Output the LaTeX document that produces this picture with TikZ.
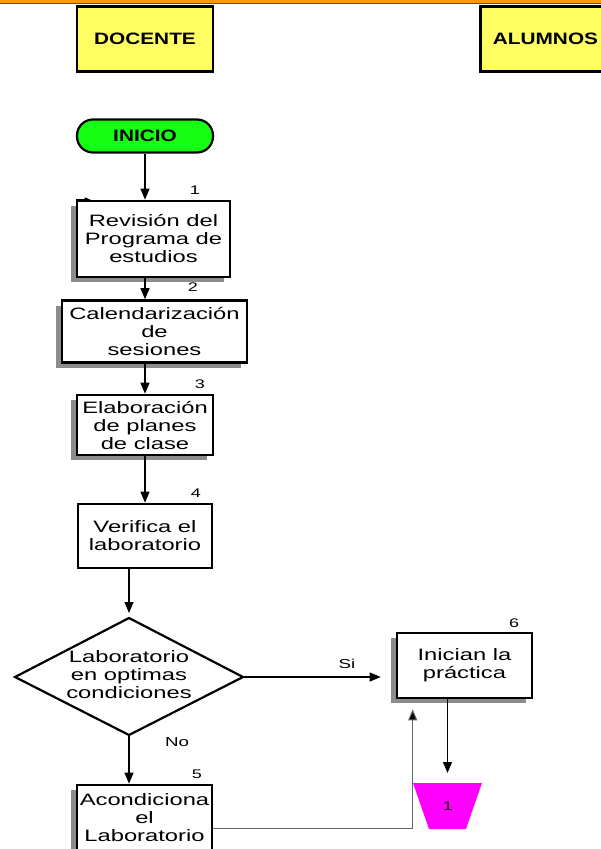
\documentclass[tikz,border=0pt]{standalone}
\usepackage{fontspec}
\setmainfont{Liberation Sans}[FakeStretch=1.44]
\newfontfamily\hdfont{Liberation Sans}[FakeStretch=1.26]
\usetikzlibrary{shapes.geometric,arrows.meta,shadows,calc}
\definecolor{yel}{RGB}{255,255,100}
\definecolor{grn}{RGB}{20,255,20}
\definecolor{mag}{RGB}{255,0,255}
\definecolor{shd}{RGB}{140,140,140}
\definecolor{org}{RGB}{255,153,0}
\begin{document}
\begin{tikzpicture}[x=1pt,y=-1pt,
  txt/.style={font=\fontsize{16.5}{18}\selectfont, align=center, inner sep=0pt},
  proc/.style={draw, line width=2.6pt, fill=white, inner sep=0pt, txt},
  shproc/.style={proc, drop shadow={shadow xshift=-6pt, shadow yshift=-5pt, fill=shd, opacity=1}},
  head/.style={draw, line width=2.2pt, fill=yel, inner sep=0pt, minimum height=65,
    font=\hdfont\bfseries\fontsize{16.5}{18}\selectfont},
  num/.style={font=\fontsize{12.5}{13}\selectfont, inner sep=0pt},
  arr/.style={line width=1.1pt, -{Triangle[length=11pt,width=9pt]}},
]
\useasboundingbox (0,0) rectangle (601,849);
\clip (0,0) rectangle (601,849);
\fill[white] (0,0) rectangle (601,849);
% top rule
\fill[org] (0,0) rectangle (601,3.2);
\draw[brown!60!black, line width=0.8pt] (0,3.5) -- (601,3.5);

% headers
\node[head, minimum width=136] (doc) at (145,39) {DOCENTE};
\node[head, minimum width=130] (alu) at (545.5,39) {ALUMNOS};

% start
\node[draw, line width=2.2pt, fill=grn, rounded corners=16pt, minimum width=136, minimum height=33,
  inner sep=0pt, font=\hdfont\bfseries\fontsize{16.5}{18}\selectfont] (ini) at (145,136) {INICIO};

% process boxes
\node[shproc, minimum width=153, minimum height=76] (b1) at (153.5,239) {Revisión del\\Programa de\\estudios};
\node[shproc, minimum width=185, minimum height=62] (b2) at (154.5,331.5) {Calendarización\\de\\sesiones};
\node[shproc, minimum width=136, minimum height=60] (b3) at (145,425) {Elaboración\\de planes\\de clase};
\node[proc, minimum width=134, minimum height=64] (b4) at (145,536) {Verifica el\\laboratorio};
\node[shproc, minimum width=135, minimum height=66] (b5) at (144.5,818) {Acondiciona\\el\\Laboratorio};
\node[shproc, minimum width=135, minimum height=65] (b6) at (464.5,665.5) {Inician la\\práctica};

% decision
\coordinate (dT) at (129,618);
\coordinate (dB) at (129,735);
\coordinate (dL) at (15,677);
\coordinate (dR) at (243,677);
\draw[line width=2.2pt, fill=white, line join=miter] (dT) -- (dR) -- (dB) -- (dL) -- cycle;
\node[txt] (dia) at (129,675) {Laboratorio\\en optimas\\condiciones};

% connector 1
\coordinate (tA) at (413,783);
\coordinate (tB) at (482,783);
\coordinate (tC) at (466,829);
\coordinate (tD) at (429,829);
\coordinate (tT) at (447.5,783);
\fill[mag] (tA) -- (tB) -- (tC) -- (tD) -- cycle;
\node[num] (con) at (448,806) {1};

% numbers and labels
\node[num] (n1) at (195,190) {1};
\node[num] (n2) at (193,287) {2};
\node[num] (n3) at (200,384) {3};
\node[num] (n4) at (196,493) {4};
\node[num] (n5) at (197,774) {5};
\node[num] (n6) at (514,623) {6};
\node[num, font=\fontsize{13}{13}\selectfont] (si) at (347,664) {Si};
\node[num, font=\fontsize{13}{13}\selectfont] (no) at (177,742) {No};

% connectors
\draw[arr] (ini.south) -- (ini.south |- b1.north);
\draw[line width=1pt, -{Triangle[length=6pt,width=4.5pt]}] (b1.north west) -- ++(15,0);
\draw[arr] (b1.south -| b4.north) -- (b2.north -| b4.north);
\draw[arr] (b2.south -| b3.north) -- (b3.north);
\draw[arr] (b3.south) -- (b4.north);
\draw[arr, shorten >=5pt] (b4.south -| dT) -- (dT);
\draw[arr] (dB) -- (dB |- b5.north);
\draw[arr, shorten >=15pt] (dR) -- (dR -| b6.west);
\draw[line width=1pt, draw=black!60, -{Triangle[length=11pt,width=9pt,fill=black]}, shorten >=10pt]
  ([yshift=-10pt]b5.east) -| ([xshift=17pt]b6.south west);
\draw[arr, shorten >=10pt] (tT |- b6.south) -- (tT);
\end{tikzpicture}
\end{document}
